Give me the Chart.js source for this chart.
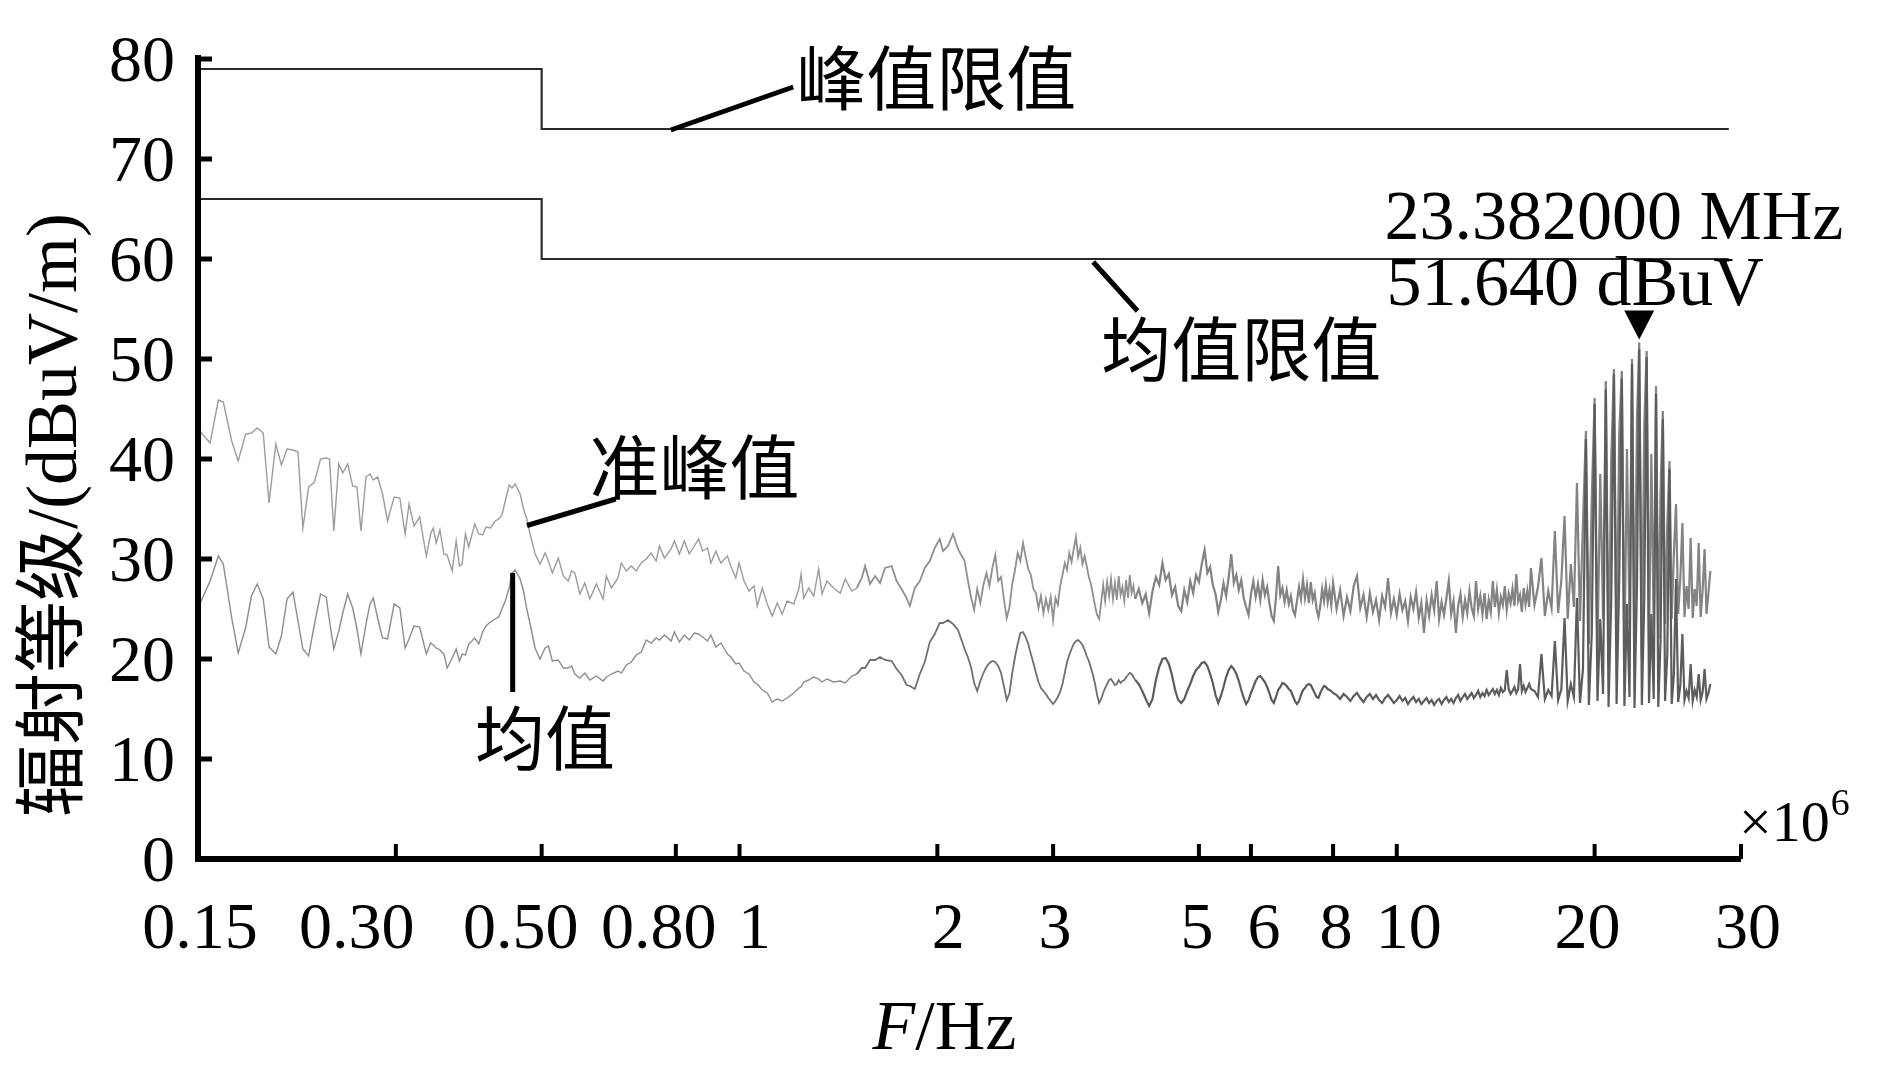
<!DOCTYPE html>
<html><head><meta charset="utf-8">
<script src="https://cdn.jsdelivr.net/npm/chart.js@4.4.1/dist/chart.umd.min.js"></script>
<style>html,body{margin:0;padding:0;background:#fff;}canvas{display:block;}</style>
</head><body>
<canvas id="c" width="1890" height="1087"></canvas>
<script>
// ---------- data (frequency in MHz, level in dBuV/m) ----------
// sweep part A: 0.15 – 2.19 MHz
const freqA = [
0.150,0.1565,0.1611,0.1639,0.1688,0.1727,0.1772,0.1809,0.1846,0.1885,
0.1924,0.1970,0.2009,0.2049,0.2092,0.2129,0.2166,0.2210,0.2256,0.2304,
0.2350,0.2378,0.2414,0.2456,0.2491,0.2534,0.2579,0.2618,0.2655,0.2702,
0.2740,0.2772,0.2814,0.2863,0.2914,0.2982,0.3042,0.3099,0.3142,0.3197,
0.3261,0.3338,0.3389,0.3420,0.3456,0.3501,0.3550,0.3591,0.3654,0.3706,
0.3749,0.3784,0.3828,0.3873,0.3955,0.4011,0.4067,0.4114,0.4177,0.4250,
0.4300,0.4350,0.4401,0.4463,0.4505,0.4557,0.4637,0.4692,0.4746,0.4802,
0.4886,0.4972,0.5060,0.5119,0.5191,0.5300,0.5394,0.5488,0.5552,0.5617,
0.5716,0.5817,0.5919,0.6058,0.6200,0.6273,0.6383,0.6533,0.6610,0.6726,
0.6844,0.6964,0.7087,0.7212,0.7338,0.7467,0.7555,0.7687,0.7868,0.7960,
0.8100,0.8242,0.8387,0.8535,0.8665,0.8786,0.8941,0.9045,0.9204,0.9366,
0.9587,0.9698,0.9869,0.9984,1.0160,1.0338,1.0520,1.0643,1.0830,1.1021,
1.1214,1.1412,1.1612,1.1816,1.2094,1.2307,1.2407,1.2523,1.2743,1.2968,
1.3195,1.3350,1.3584,1.3904,1.4231,1.4481,1.4821,1.5082,1.5347,1.5526,
1.5799,1.6077,1.6360,1.6648,1.7039,1.7339,1.7643,1.7954,1.8163,1.8483,
1.8808,1.9138,1.9475,1.9817,2.0166,2.0401,2.0760,2.1125,2.1496,2.1874];
const qpA = [
43.0,41.6,45.9,45.7,41.8,39.8,42.5,42.6,43.1,42.6,
35.6,41.5,39.4,41.0,40.9,40.7,33.1,37.2,37.7,40.0,
40.1,40.0,32.8,39.5,38.6,39.5,37.3,37.2,32.8,38.2,
38.5,37.9,38.2,36.5,33.8,36.2,36.1,32.5,35.5,33.3,
34.2,30.3,32.5,33.1,31.6,32.9,30.5,30.4,28.8,31.8,
29.3,29.5,32.5,31.2,33.5,32.5,32.4,33.2,33.1,33.8,
34.0,34.4,35.8,37.4,37.1,37.5,36.5,35.0,34.0,32.5,
30.5,29.5,30.6,29.8,28.6,30.1,28.3,27.8,28.8,28.6,
26.5,27.6,26.0,27.5,26.0,28.3,27.1,28.1,29.6,28.8,
29.3,28.8,29.6,30.0,30.6,29.8,31.3,30.1,31.0,31.8,
30.5,31.8,30.5,31.3,32.0,30.8,31.1,29.6,30.8,29.6,
30.3,29.3,28.1,29.6,27.8,26.8,27.3,25.3,27.1,25.5,
24.3,25.6,24.5,25.8,25.5,27.0,28.5,26.1,27.1,26.3,
29.0,26.5,27.8,27.1,26.6,28.0,26.8,27.1,28.1,29.3,
27.5,28.3,27.6,29.1,29.3,27.8,27.0,26.1,25.3,27.1,
27.8,29.1,29.8,31.1,32.0,30.8,31.3,32.5,31.0,30.1];
const avgA = [
25.1,27.8,30.3,29.5,24.1,20.6,23.1,26.3,27.5,26.0,
21.2,20.5,22.3,26.0,26.7,23.8,21.0,20.3,23.5,26.5,
26.2,23.8,21.0,22.8,24.6,26.5,25.1,23.0,20.5,23.5,
25.5,26.1,24.1,22.1,22.0,25.5,25.1,21.1,22.0,23.3,
23.2,20.5,21.6,21.4,21.1,20.9,20.5,19.1,20.1,21.0,
19.8,20.5,20.4,21.5,22.1,21.5,22.7,23.3,23.7,24.0,
24.2,25.0,25.8,27.1,28.6,28.9,28.0,26.8,25.0,23.5,
21.1,20.0,21.1,21.3,19.8,19.9,19.1,19.1,19.3,18.5,
18.1,18.6,17.9,18.3,17.8,18.2,18.5,18.8,18.6,19.4,
19.7,20.4,20.7,21.9,21.6,22.1,21.9,22.4,21.8,22.7,
21.7,22.4,21.9,22.6,22.5,22.2,21.8,22.4,21.2,21.6,
20.5,20.2,19.5,19.6,18.8,18.5,17.7,17.5,16.9,16.6,
15.7,16.0,15.8,16.1,16.6,17.1,17.2,17.7,17.9,18.2,
18.0,17.7,18.0,17.7,17.8,17.6,18.3,18.5,19.1,19.1,
19.9,19.9,20.2,19.9,19.8,19.0,18.4,17.4,17.3,17.0,
18.5,19.7,21.7,22.5,23.6,23.6,23.9,23.5,22.9,21.5];

// sweep part B: 2.2 – 8 MHz
const freqB = [
2.2,2.225,2.25,2.275,2.3,2.325,2.35,2.375,2.4,2.425,2.45,
2.475,2.5,2.525,2.55,2.575,2.6,2.625,2.65,2.675,2.7,2.725,
2.75,2.775,2.8,2.825,2.85,2.875,2.9,2.925,2.95,2.975,3.0,
3.025,3.05,3.075,3.1,3.125,3.15,3.175,3.2,3.225,3.25,3.275,
3.3,3.325,3.35,3.375,3.4,3.425,3.45,3.475,3.5,3.525,3.55,
3.575,3.6,3.625,3.65,3.675,3.7,3.725,3.75,3.775,3.8,3.825,
3.85,3.875,3.9,3.925,3.95,3.975,4.0,
4.05,4.1,4.15,4.2,4.25,4.3,4.35,4.4,4.45,4.5,
4.55,4.6,4.65,4.7,4.75,4.8,4.85,4.9,4.95,5.0,
5.05,5.1,5.15,5.2,5.25,5.3,5.35,5.4,5.45,5.5,
5.55,5.6,5.65,5.7,5.75,5.8,5.85,5.9,5.95,6.0,
6.05,6.1,6.15,6.2,6.25,6.3,6.35,6.4,6.45,6.5,
6.55,6.6,6.65,6.7,6.75,6.8,6.85,6.9,6.95,7.0,
7.05,7.1,7.15,7.2,7.25,7.3,7.35,7.4,7.45,7.5,
7.55,7.6,7.65,7.7,7.75,7.8,7.85,7.9,7.95,8.0];
const qpB = [
29.8,27.9,26.2,24.9,27.0,25.6,27.4,28.6,27.3,29.1,30.4,
27.8,28.2,26.0,24.1,25.2,27.5,28.9,30.6,29.8,31.6,30.2,
29.0,28.4,27.0,26.6,25.1,26.3,24.6,26.0,24.9,26.2,23.9,
26.1,25.4,27.3,28.4,29.6,28.9,30.6,29.7,31.0,32.2,30.2,
31.1,29.5,30.3,29.3,28.2,27.5,26.4,25.3,24.4,24.0,25.6,
27.4,25.8,27.7,26.3,28.0,26.0,27.6,25.9,28.3,26.4,27.2,
25.8,27.9,26.1,28.4,26.6,27.3,26.0,
27.0,25.6,26.5,24.6,26.8,28.2,27.4,29.6,27.9,28.5,
26.4,27.2,25.3,24.8,26.9,25.7,27.8,26.6,28.4,27.7,
29.5,30.9,28.6,29.2,27.4,26.5,24.7,25.9,27.6,26.3,
28.2,30.5,27.6,28.4,26.9,27.9,26.1,25.2,24.4,26.5,
27.8,26.2,27.5,25.9,27.9,26.4,27.2,25.6,24.3,23.8,
26.2,29.3,26.4,27.1,25.7,26.9,25.5,26.3,24.9,24.4,
25.8,27.2,26.0,28.0,26.1,27.4,25.6,27.7,25.9,26.6,
25.0,24.2,25.3,27.0,25.8,27.4,25.7,26.9,25.4,27.6];
const avgB = [
21.0,20.2,19.2,17.6,16.8,17.8,18.6,19.2,19.6,19.8,19.7,
19.3,18.6,17.3,15.9,16.6,18.6,20.2,21.5,22.6,22.7,22.2,
21.5,20.5,19.6,18.6,17.7,17.1,16.8,16.5,16.1,15.8,15.5,
15.8,16.2,16.7,17.5,18.6,19.7,20.4,21.0,21.5,21.8,21.9,
21.7,21.4,20.9,20.3,19.8,19.1,18.4,17.5,16.4,15.6,16.0,
16.6,17.1,17.5,17.9,18.0,17.7,17.4,17.5,17.9,17.6,17.8,
17.9,18.2,18.4,18.6,18.5,18.2,17.9,
17.5,16.8,16.0,15.3,16.0,17.9,19.2,20.0,20.1,19.5,
18.4,16.9,15.9,15.6,16.0,16.8,17.5,18.3,18.9,19.2,
19.6,19.7,19.3,18.5,17.6,16.4,15.6,16.3,17.2,18.2,
18.9,19.3,19.0,18.5,17.8,16.9,16.1,15.5,15.9,16.6,
17.2,17.8,18.2,18.3,18.0,17.7,17.2,16.6,15.9,15.6,
16.2,16.9,17.2,17.6,17.5,17.3,17.0,16.8,16.3,15.8,
15.5,15.8,16.4,16.9,17.1,17.4,17.5,17.4,17.0,16.6,
16.2,16.1,16.6,17.0,17.3,17.2,17.0,16.9,16.8,16.6];

// sweep part C: 8.1 – 30 MHz
const freqC = [
8.1,8.2,8.3,8.4,8.5,8.6,8.7,8.8,8.9,9.0,
9.1,9.2,9.3,9.4,9.5,9.6,9.7,9.8,9.9,10.0,
10.1,10.2,10.3,10.4,10.5,10.6,10.7,10.8,10.9,11.0,
11.1,11.2,11.3,11.4,11.5,11.6,11.7,11.8,11.9,12.0,
12.1,12.2,12.3,12.4,12.5,12.6,12.7,12.8,12.9,13.0,
13.1,13.2,13.3,13.4,13.5,13.6,13.7,13.8,13.9,14.0,
14.1,14.2,14.3,14.4,14.5,14.6,14.7,14.8,14.9,15.0,
15.1,15.2,15.3,15.4,15.5,15.6,15.7,15.8,15.9,16.0,
16.2,16.4,16.6,16.8,17.0,17.2,17.4,17.6,17.8,18.0,
18.2,18.4,18.6,18.8,19.0,19.2,19.4,19.6,19.8,20.0,
20.2,20.4,20.6,20.8,21.0,21.2,21.4,21.6,21.8,22.0,
22.2,22.4,22.6,22.8,23.0,23.2,23.382,23.6,23.8,24.0,
24.2,24.4,24.6,24.8,25.0,25.2,25.4,25.6,25.8,26.0,
26.2,26.4,26.6,26.8,27.0,27.2,27.4,27.6,27.8,28.0,
28.2,28.4,28.6,28.8,29.0,29.2,29.4,29.6,29.8,30.0];
const qpC = [
25.0,26.9,24.3,26.2,24.8,27.3,28.3,25.1,26.4,24.2,
26.6,24.7,25.9,23.9,26.3,25.2,28.1,24.6,26.0,24.4,
26.5,24.9,25.8,23.8,26.2,25.0,26.7,24.1,25.6,22.6,
25.9,24.3,26.4,24.9,27.8,24.0,25.7,24.4,26.1,27.8,
24.5,25.8,22.6,25.3,26.5,24.2,25.9,24.6,26.8,25.1,
24.3,27.8,25.0,26.3,24.5,26.6,24.0,25.9,24.7,27.8,
25.2,26.9,24.6,26.2,25.4,27.3,24.9,26.5,25.6,27.0,
25.3,28.5,25.8,26.4,24.7,27.1,25.5,26.8,25.2,29.1,
25.4,27.2,30.1,24.3,26.8,25.1,32.8,24.6,27.9,34.3,
24.0,29.5,25.2,37.6,23.8,33.5,42.8,21.5,36.0,46.1,
20.5,38.5,24.0,47.8,19.5,40.0,49.0,21.0,42.5,48.8,
19.8,41.0,23.5,50.0,20.5,44.0,51.64,20.0,43.5,50.8,
21.5,40.5,23.0,47.3,22.0,37.0,44.8,23.5,33.5,39.8,
24.0,30.5,35.5,24.5,28.0,33.6,24.2,27.3,25.0,32.1,
24.1,27.0,25.3,31.6,24.2,26.9,31.0,24.5,26.6,28.8];
const avgC = [
16.4,16.0,16.5,16.2,15.8,16.3,16.6,16.1,15.7,16.2,
16.5,16.0,16.4,15.9,15.6,16.1,16.4,16.0,15.6,15.9,
16.3,15.8,16.1,15.5,15.9,16.2,15.7,16.0,15.5,15.8,
16.1,15.6,15.9,15.4,15.8,16.0,15.5,15.9,16.2,15.7,
16.0,15.6,16.1,16.4,15.8,16.2,16.5,16.0,16.3,16.6,
16.1,16.4,16.8,16.2,16.6,16.3,16.9,16.4,16.7,17.0,
16.5,16.9,16.4,17.1,16.7,16.9,18.9,17.0,16.5,16.8,
17.2,16.6,17.0,19.5,16.8,17.3,16.7,17.1,17.5,17.0,
16.8,16.2,20.5,16.0,16.9,16.3,21.8,15.9,17.0,24.1,
15.8,17.5,16.2,26.1,15.6,19.0,42.0,15.4,22.5,45.5,
15.8,24.0,16.5,47.0,15.2,26.0,48.5,15.5,28.0,48.0,
15.3,25.5,16.2,49.5,15.1,27.5,51.0,15.4,26.0,50.2,
15.6,24.5,16.0,46.5,15.2,22.0,44.0,15.8,20.5,39.0,
15.5,18.5,28.0,15.7,17.3,22.5,15.9,16.8,16.1,19.5,
15.8,16.9,16.2,18.5,15.9,16.7,19.0,16.0,16.6,17.5];

// limit lines
const limitFreq = [0.15, 0.5, 0.5, 32];
const peakLimitLevel = [79, 79, 73, 73];
const avgLimitLevel = [66, 66, 60, 60];

// marker
const markerFreq = 23.382;
const markerLevel = 51.64;
const markerText = ['23.382000 MHz', '51.640 dBuV'];

// axes
const yTickValues = [0, 10, 20, 30, 40, 50, 60, 70, 80];
const xTickValues = [0.15, 0.30, 0.50, 0.80, 1, 2, 3, 5, 6, 8, 10, 20, 33.4];
const xTickLabels = ['0.15', '0.30', '0.50', '0.80', '1', '2', '3', '5', '6', '8', '10', '20', '30'];
const xLabelNudge = [2, -39, -21, -17, 15, 11, 2, -2, 13, 3, 12, -7, 7];

// annotations (anchor in data units)
const annoTexts = [
  {t: '峰值限值', f: 1.22, v: 77.2},
  {t: '均值限值', f: 3.55, v: 50.1},
  {t: '准峰值', f: 0.591, v: 38.3},
  {t: '均值', f: 0.396, v: 11.2}
];
const leaders = [
  [[0.786, 72.9], [1.207, 77.2]],
  [[3.452, 59.7], [4.033, 54.8]],
  [[0.475, 33.35], [0.648, 36.0]],
  [[0.4517, 28.6], [0.4517, 16.7]]
];

// ---------- build ----------
const freqAll = freqA.concat(freqB, freqC);
const qpAll = qpA.concat(qpB, qpC);
const avgAll = avgA.concat(avgB, avgC);
const pts = (fs, vs) => fs.map((f, i) => ({x: f, y: vs[i]}));

const SERIF = '"Liberation Serif","Times New Roman",serif';
const MIXED = '"Liberation Serif","Noto Sans CJK SC",serif';

// trace styling by frequency band (denser sweep looks darker / heavier)
const avgStyle = f => f < 1.5 ? ['#8c8c8c', 1.4] : f < 4 ? ['#707070', 1.8] : ['#5c5c5c', 2.2];
const qpStyle = f => f < 1.5 ? ['#9c9c9c', 1.4] : f < 4 ? ['#909090', 1.8] : ['#838383', 2.2];

const decor = {
  id: 'decor',
  afterDatasetsDraw(chart) {
    const {ctx, chartArea: a, scales: {x, y}} = chart;
    ctx.save();
    ctx.fillStyle = '#000';
    ctx.strokeStyle = '#000';
    ctx.lineCap = 'butt';
    // axis lines
    ctx.lineWidth = 6;
    ctx.beginPath(); ctx.moveTo(a.left, a.top - 4); ctx.lineTo(a.left, a.bottom + 3); ctx.stroke();
    ctx.beginPath(); ctx.moveTo(a.left - 3, a.bottom); ctx.lineTo(a.right, a.bottom); ctx.stroke();
    // y ticks
    ctx.lineWidth = 5;
    yTickValues.forEach(v => {
      const py = y.getPixelForValue(v);
      ctx.beginPath(); ctx.moveTo(a.left, py); ctx.lineTo(a.left + 14, py); ctx.stroke();
    });
    // x ticks
    ctx.lineWidth = 4;
    xTickValues.forEach(v => {
      const px = x.getPixelForValue(v);
      if (px - a.left < 4) return;
      ctx.beginPath(); ctx.moveTo(px, a.bottom); ctx.lineTo(px, a.bottom - 15); ctx.stroke();
    });
    // tick labels
    ctx.font = '66px ' + SERIF;
    ctx.textBaseline = 'alphabetic';
    ctx.textAlign = 'right';
    yTickValues.forEach(v => ctx.fillText(String(v), a.left - 23, y.getPixelForValue(v) + 22));
    ctx.textAlign = 'center';
    xTickValues.forEach((v, i) => ctx.fillText(xTickLabels[i], x.getPixelForValue(v) + xLabelNudge[i], a.bottom + 89));
    // x axis title  F/Hz
    ctx.textAlign = 'left';
    ctx.font = 'italic 70px ' + SERIF;
    const wF = ctx.measureText('F').width;
    ctx.font = '70px ' + SERIF;
    const wR = ctx.measureText('/Hz').width;
    const cx = (a.left + a.right) / 2 - 25;
    const sx = cx - (wF + wR) / 2;
    ctx.font = 'italic 70px ' + SERIF;
    ctx.fillText('F', sx, a.bottom + 190);
    ctx.font = '70px ' + SERIF;
    ctx.fillText('/Hz', sx + wF, a.bottom + 190);
    // x10^6
    ctx.font = '58px ' + SERIF;
    ctx.fillText('×10', a.right - 2, a.bottom - 18);
    const w10 = ctx.measureText('×10').width;
    ctx.font = '38px ' + SERIF;
    ctx.fillText('6', a.right - 1 + w10, a.bottom - 44);
    // y axis title
    ctx.save();
    ctx.translate(57, (a.top + a.bottom) / 2 + 56);
    ctx.rotate(-Math.PI / 2);
    ctx.font = '72px ' + MIXED;
    ctx.textAlign = 'center';
    ctx.textBaseline = 'middle';
    ctx.fillText('辐射等级/(dBuV/m)', 0, 0);
    ctx.restore();
    // leader lines
    ctx.lineWidth = 5;
    leaders.forEach(l => {
      ctx.beginPath();
      ctx.moveTo(x.getPixelForValue(l[0][0]), y.getPixelForValue(l[0][1]));
      ctx.lineTo(x.getPixelForValue(l[1][0]), y.getPixelForValue(l[1][1]));
      ctx.stroke();
    });
    // annotation texts
    ctx.font = '70px ' + MIXED;
    ctx.textAlign = 'left';
    ctx.textBaseline = 'middle';
    annoTexts.forEach(o => ctx.fillText(o.t, x.getPixelForValue(o.f), y.getPixelForValue(o.v)));
    // marker texts
    ctx.font = '70px ' + SERIF;
    ctx.fillText(markerText[0], x.getPixelForValue(9.58), y.getPixelForValue(63.8));
    ctx.fillText(markerText[1], x.getPixelForValue(9.65), y.getPixelForValue(57.2));
    // marker triangle
    const mx = x.getPixelForValue(markerFreq), my = y.getPixelForValue(markerLevel) - 3;
    ctx.beginPath();
    ctx.moveTo(mx, my);
    ctx.lineTo(mx - 15, my - 29);
    ctx.lineTo(mx + 15, my - 29);
    ctx.closePath();
    ctx.fill();
    ctx.restore();
  }
};

function build() {
  new Chart(document.getElementById('c'), {
    type: 'line',
    data: {
      datasets: [
        {label: '峰值限值', data: pts(limitFreq, peakLimitLevel), borderColor: '#2a2a2a', borderWidth: 2.2},
        {label: '均值限值', data: pts(limitFreq, avgLimitLevel), borderColor: '#2a2a2a', borderWidth: 2.2},
        {label: '均值', data: pts(freqAll, avgAll), borderColor: '#8c8c8c', borderWidth: 1.4,
         segment: {borderColor: c => avgStyle(c.p0.parsed.x)[0], borderWidth: c => avgStyle(c.p0.parsed.x)[1]}},
        {label: '准峰值', data: pts(freqAll, qpAll), borderColor: '#9c9c9c', borderWidth: 1.4,
         segment: {borderColor: c => qpStyle(c.p0.parsed.x)[0], borderWidth: c => qpStyle(c.p0.parsed.x)[1]}}
      ]
    },
    options: {
      responsive: false,
      animation: false,
      devicePixelRatio: 1,
      layout: {padding: {left: 198, top: 59, right: 149, bottom: 228}},
      plugins: {legend: {display: false}, tooltip: {enabled: false}},
      elements: {point: {radius: 0}, line: {tension: 0}},
      scales: {
        x: {type: 'logarithmic', min: 0.15, max: 33.4, display: false},
        y: {type: 'linear', min: 0, max: 80, display: false}
      }
    },
    plugins: [decor]
  });
}
const loads = [
  document.fonts.load('70px "Liberation Serif"'),
  document.fonts.load('italic 70px "Liberation Serif"'),
  document.fonts.load('70px "Noto Sans CJK SC"', '峰值限均准辐射等级')
];
Promise.race([Promise.all(loads), new Promise(r => setTimeout(r, 1500))]).then(build, build);
</script>
</body></html>
